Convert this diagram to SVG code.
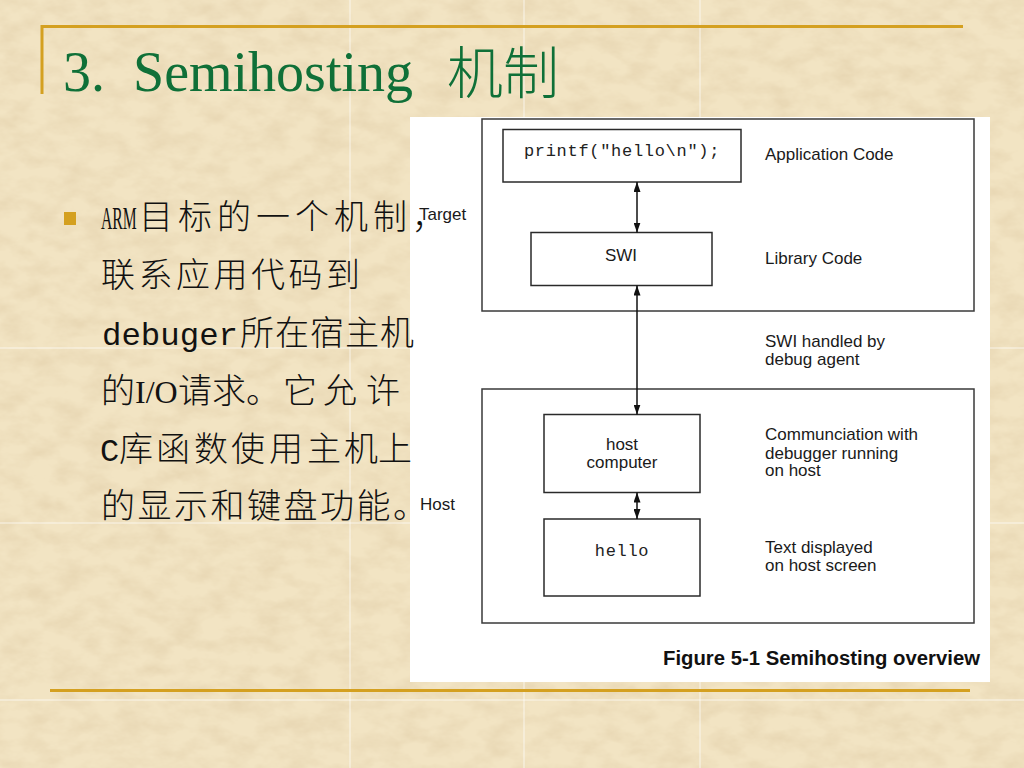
<svg xmlns="http://www.w3.org/2000/svg" width="1024" height="768" viewBox="0 0 1024 768">
  <defs>
    <filter id="tex" x="0" y="0" width="1024" height="768" filterUnits="userSpaceOnUse">
      <feTurbulence type="fractalNoise" baseFrequency="0.035 0.06" numOctaves="4" seed="7"/>
      <feColorMatrix type="matrix" values="0 0 0 0 0.74  0 0 0 0 0.60  0 0 0 0 0.38  1.0 0 0 0 -0.36"/>
    </filter>
    <marker id="ah" viewBox="0 0 10 7" refX="10" refY="3.5" markerWidth="10" markerHeight="7" markerUnits="userSpaceOnUse" orient="auto-start-reverse" preserveAspectRatio="none">
      <path d="M0,0 L10,3.5 L0,7 z" fill="#111"/>
    </marker>
    <style>
      .gold { stroke: #D4A020; stroke-width: 3; fill: none; }
      .seam { stroke: #FFFFFF; stroke-opacity: 0.7; stroke-width: 1; }
      .title { fill: #0F7038; font-size: 56px; }
      .ser { font-family: "Liberation Serif", serif; font-size: 32px; }
      .tser { font-family: "Liberation Serif", serif; }
      .cjk { font-family: "Noto Sans CJK SC", sans-serif; }
      .body { fill: #111; font-size: 34px; font-family: "Noto Sans CJK SC", sans-serif; font-weight: 300; }
      .mono { font-family: "Liberation Mono", monospace; font-weight: 400; font-size: 32px; }
      .box { fill: #FFFFFF; stroke: #2a2a2a; stroke-width: 1.5; }
      .frame { fill: none; stroke: #3a3a3a; stroke-width: 1.5; }
      .lbl { font-family: "Liberation Sans", Arial, sans-serif; font-size: 17px; fill: #1a1a1a; }
      .code { font-family: "Liberation Mono", monospace; font-size: 17px; fill: #222; letter-spacing: 0.7px; }
      .mid { text-anchor: middle; }
      .conn { stroke: #111; stroke-width: 1.5; fill: none; marker-start: url(#ah); marker-end: url(#ah); }
    </style>
  </defs>

  <!-- background parchment -->
  <rect x="0" y="0" width="1024" height="768" fill="#F2E4C3"/>
  <rect x="0" y="0" width="1024" height="768" filter="url(#tex)"/>
  <g id="seams">
    <line class="seam" x1="350" y1="0" x2="350" y2="768"/>
    <line class="seam" x1="524" y1="0" x2="524" y2="768"/>
    <line class="seam" x1="700" y1="0" x2="700" y2="768"/>
    <line class="seam" x1="0" y1="348" x2="1024" y2="348"/>
    <line class="seam" x1="0" y1="523" x2="1024" y2="523"/>
    <line class="seam" x1="0" y1="700" x2="1024" y2="700"/>
  </g>

  <!-- title frame lines -->
  <path class="gold" d="M42,94 V26.5 H963"/>
  <line class="gold" x1="50" y1="690.5" x2="970" y2="690.5"/>

  <!-- title -->
  <g id="title">
    <text class="title tser" x="63" y="91">3.</text>
    <text class="title tser" x="133" y="91">Semihosting</text>
    <text class="title cjk" x="447" y="93" font-weight="300">机制</text>
  </g>

  <!-- figure panel -->
  <rect id="panel" x="410" y="117" width="580" height="565" fill="#FFFFFF"/>

  <g id="target-frame">
    <rect class="frame" x="482" y="119" width="492" height="192"/>
    <text class="lbl" x="419" y="220">Target</text>
  </g>
  <g id="host-frame">
    <rect class="frame" x="482" y="389" width="492" height="234"/>
    <text class="lbl" x="420" y="510">Host</text>
  </g>

  <g id="printf">
    <rect class="box" x="503" y="129.5" width="238" height="52.5"/>
    <text class="code mid" x="622" y="156">printf("hello\n");</text>
    <text class="lbl" x="765" y="160">Application Code</text>
  </g>
  <g id="swi">
    <rect class="box" x="531" y="232.5" width="181" height="53"/>
    <text class="lbl mid" x="621" y="261">SWI</text>
    <text class="lbl" x="765" y="264">Library Code</text>
  </g>
  <g id="swi-handled">
    <text class="lbl" x="765" y="347">SWI handled by</text>
    <text class="lbl" x="765" y="365">debug agent</text>
  </g>
  <g id="host-computer">
    <rect class="box" x="544" y="414.5" width="156" height="78"/>
    <text class="lbl mid" x="622" y="450">host</text>
    <text class="lbl mid" x="622" y="468">computer</text>
    <text class="lbl" x="765" y="440">Communciation with</text>
    <text class="lbl" x="765" y="459">debugger running</text>
    <text class="lbl" x="765" y="476">on host</text>
  </g>
  <g id="hello">
    <rect class="box" x="544" y="519" width="156" height="77"/>
    <text class="code mid" x="622" y="556">hello</text>
    <text class="lbl" x="765" y="553">Text displayed</text>
    <text class="lbl" x="765" y="571">on host screen</text>
  </g>

  <g id="connectors">
    <line class="conn" x1="637" y1="182" x2="637" y2="232.5"/>
    <line class="conn" x1="637" y1="285.5" x2="637" y2="414.5"/>
    <line class="conn" x1="637" y1="492.5" x2="637" y2="519"/>
  </g>

  <text id="caption" x="663" y="665" font-family="Liberation Sans, Arial, sans-serif" font-weight="bold" font-size="20" fill="#111" textLength="317" lengthAdjust="spacingAndGlyphs">Figure 5-1 Semihosting overview</text>

  <!-- bullet text (drawn above the panel, as in the reference) -->
  <g id="bullet">
    <rect x="64" y="212" width="12" height="13" fill="#D4A020"/>
    <text class="ser" fill="#111" transform="translate(101 229) scale(0.49 1)" x="0" y="0">ARM</text>
    <text class="body" y="229"><tspan x="139 178 217 256 295 334 373 412">目标的一个机制，</tspan></text>
    <text class="body" y="287"><tspan x="101 138.5 176 213.5 251 288.5 326">联系应用代码到</tspan></text>
    <text class="body" y="345"><tspan class="mono" x="102" textLength="136" lengthAdjust="spacingAndGlyphs">debuger</tspan><tspan x="240 275 310 345 380">所在宿主机</tspan></text>
    <text class="body" y="403"><tspan x="101">的</tspan><tspan class="ser" x="135">I/O</tspan><tspan x="178 212 246 283 323 366">请求。它允许</tspan></text>
    <text class="body" y="461"><tspan class="mono" x="100">C</tspan><tspan x="119 156 194 231 269 307 344 378">库函数使用主机上</tspan></text>
    <text class="body" y="518"><tspan x="101 137.5 174 210.5 247 283.5 320 356.5 393">的显示和键盘功能。</tspan></text>
  </g>
</svg>
